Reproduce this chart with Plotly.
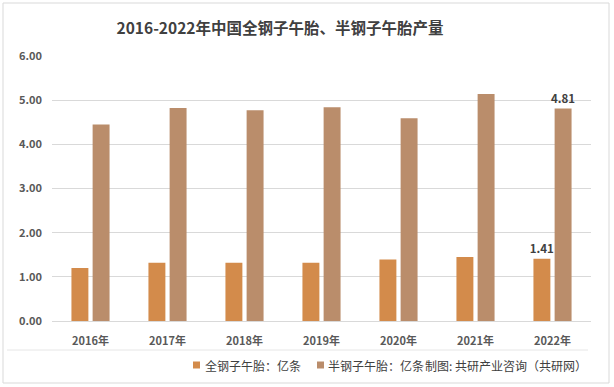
import plotly.graph_objects as go

categories = ["2016年", "2017年", "2018年", "2019年", "2020年", "2021年", "2022年"]
all_steel = [1.20, 1.32, 1.32, 1.32, 1.39, 1.45, 1.41]
semi_steel = [4.45, 4.82, 4.77, 4.84, 4.59, 5.14, 4.81]
y_ticks = [0, 1, 2, 3, 4, 5, 6]
series_names = ["全钢子午胎：亿条", "半钢子午胎：亿条"]
series_colors = ["#D38B4B", "#BA8D6B"]
title_text = "2016-2022年中国全钢子午胎、半钢子午胎产量"
source_text = "制图: 共研产业咨询（共研网）"

FONT = "Noto Sans CJK SC, Noto Sans, sans-serif"

def last_only(vals):
    return ["" if i < len(vals) - 1 else f"{v:.2f}" for i, v in enumerate(vals)]

fig = go.Figure()
for name, vals, col in zip(series_names, [all_steel, semi_steel], series_colors):
    fig.add_trace(go.Bar(
        x=categories, y=vals, name=name, showlegend=False,
        marker=dict(color=col, line=dict(width=0)),
        text=last_only(vals), textposition="outside", cliponaxis=False,
        constraintext="none",
        textfont=dict(family=FONT, size=11.5, color="#404040", weight="bold"),
    ))

W, H = 614, 387
L, R, T, B = 52, 23, 56, 66
pw, ph = W - L - R, H - T - B

def px_x(px):
    return (px - L) / pw

def px_y(py):
    return (H - B - py) / ph

shapes = [
    dict(type="rect", xref="paper", yref="paper",
         x0=px_x(3), x1=px_x(609), y0=px_y(383), y1=px_y(3),
         line=dict(color="#D9D9D9", width=1), fillcolor="rgba(0,0,0,0)"),
    dict(type="line", xref="paper", yref="paper",
         x0=px_x(7), x1=px_x(588), y0=px_y(350), y1=px_y(350),
         line=dict(color="#E6E6E6", width=1)),
]
annotations = []
legend_marker_x = [193, 317]
legend_text_x = [203, 326]
LEG_Y = 365
for name, col, mx, tx in zip(series_names, series_colors, legend_marker_x, legend_text_x):
    shapes.append(dict(type="rect", xref="paper", yref="paper",
                       x0=px_x(mx), x1=px_x(mx + 7), y0=px_y(LEG_Y + 3.5), y1=px_y(LEG_Y - 3.5),
                       line=dict(width=0), fillcolor=col))
    annotations.append(dict(text=name, xref="paper", yref="paper", x=px_x(tx), y=px_y(LEG_Y),
                            xanchor="left", yanchor="middle", showarrow=False,
                            font=dict(family=FONT, size=12, color="#404040")))
annotations.append(dict(text=source_text, xref="paper", yref="paper", x=px_x(589), y=px_y(LEG_Y),
                        xanchor="right", yanchor="middle", showarrow=False,
                        font=dict(family=FONT, size=12, color="#404040")))

fig.update_layout(
    width=W, height=H,
    margin=dict(l=L, r=R, t=T, b=B),
    paper_bgcolor="white", plot_bgcolor="white",
    barmode="group", bargap=0.45, bargroupgap=0.2,
    font=dict(family=FONT, color="#595959"),
    title=dict(text=title_text, x=280 / W, xanchor="center", y=1 - 29 / H, yanchor="middle",
               font=dict(family=FONT, size=15.5, color="#404040", weight="bold")),
    showlegend=False,
    yaxis=dict(range=[0, 6], tickvals=y_ticks, tickformat=".2f", automargin=False,
               showgrid=True, gridcolor="#D9D9D9", gridwidth=1, zeroline=False,
               showline=False, ticks="", ticklabelstandoff=9,
               tickfont=dict(family=FONT, size=11, color="#595959", weight="bold")),
    xaxis=dict(showline=True, linecolor="#D9D9D9", linewidth=1, ticks="", automargin=False,
               ticklabelstandoff=10,
               tickfont=dict(family=FONT, size=11, color="#595959", weight="bold")),
    shapes=shapes,
    annotations=annotations,
)

fig.write_html("out.html", config={"displayModeBar": False},
               post_script="document.body.style.margin='0';document.body.style.overflow='hidden';")
